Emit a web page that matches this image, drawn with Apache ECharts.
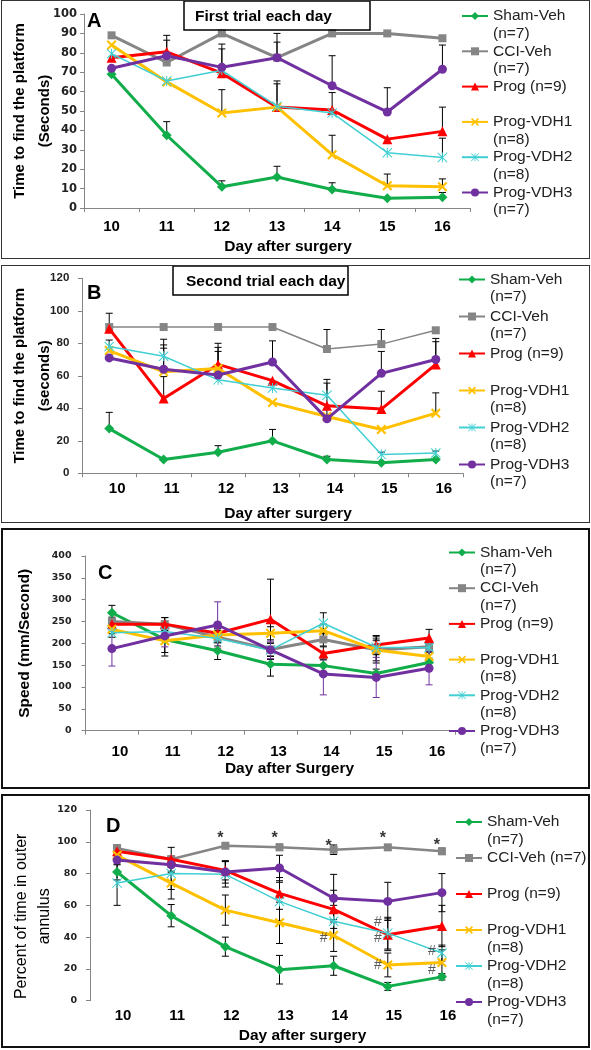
<!DOCTYPE html>
<html><head><meta charset="utf-8">
<script src="https://cdn.jsdelivr.net/npm/echarts@6/dist/echarts.min.js"></script>
<style>
html,body{margin:0;padding:0;background:#fff;}
body{width:591px;height:1050px;position:relative;overflow:hidden;}
.chart{position:absolute;left:0;width:591px;}
.box{position:absolute;box-sizing:border-box;pointer-events:none;}
</style></head><body>
<div id="pA" class="chart" style="top:0;height:259px"></div>
<div id="pB" class="chart" style="top:265px;height:258px"></div>
<div id="pC" class="chart" style="top:528px;height:261px"></div>
<div id="pD" class="chart" style="top:794px;height:254px"></div>
<div class="box" style="left:1px;top:0;width:589px;height:259px;border:1.5px solid #333"></div>
<div class="box" style="left:1px;top:265px;width:589px;height:258px;border:1.5px solid #333"></div>
<div class="box" style="left:1px;top:528px;width:589px;height:261px;border:2.5px solid #111"></div>
<div class="box" style="left:1px;top:794px;width:589px;height:254px;border:2.5px solid #111"></div>
<script>
// ---------- DATA ----------
const days = ['10', '11', '12', '13', '14', '15', '16'];

const legendABC = ['Sham-Veh\n(n=7)', 'CCI-Veh\n(n=7)', 'Prog (n=9)', 'Prog-VDH1\n(n=8)', 'Prog-VDH2\n(n=8)', 'Prog-VDH3\n(n=7)'];
const legendD = ['Sham-Veh\n(n=7)', 'CCI-Veh (n=7)', 'Prog (n=9)', 'Prog-VDH1\n(n=8)', 'Prog-VDH2\n(n=8)', 'Prog-VDH3\n(n=7)'];

// Panel A: first trial, time to platform (s), upper error bars
const aSham = [69, 37.5, 11, 16, 9.5, 5, 5.5];
const aCci  = [89, 75, 90, 77.5, 90, 90, 87.5];
const aProg = [77.5, 80.5, 69.5, 52, 50.5, 35.5, 39.5];
const aVdh1 = [84, 65, 49, 52, 27.5, 11.5, 11];
const aVdh2 = [79.5, 65.5, 71, 52.5, 49, 28.5, 26];
const aVdh3 = [72, 78.5, 72.5, 77.5, 63, 49.5, 71.5];
const aShamErr = [0, 7, 3, 5.5, 3.5, 0, 2.5];
const aCciErr  = [0, 0, 0, 12.5, 0, 0, 0];
const aProgErr = [0, 8.5, 12.5, 13.5, 9, 0, 12.5];
const aVdh1Err = [0, 0, 12, 12, 10, 6, 4];
const aVdh2Err = [0, 0, 0, 0, 0, 0, 10];
const aVdh3Err = [0, 8, 12, 8, 15.5, 12.5, 12.5];

// Panel B: second trial, time to platform (s), upper error bars
const bSham = [27.5, 8.5, 13, 20, 8.5, 6.5, 8.5];
const bCci  = [90, 90, 90, 90, 76.5, 79.5, 88];
const bProg = [89, 46, 67, 57, 41.5, 39.5, 67];
const bVdh1 = [75.5, 62.5, 64.5, 43.5, 35, 27, 37];
const bVdh2 = [78, 72, 57.5, 52.5, 48, 11.5, 12.5];
const bVdh3 = [71, 64, 60.5, 68.5, 33.5, 61.5, 70];
const bShamErr = [10, 0, 4, 7, 2, 0, 0];
const bCciErr  = [0, 0, 0, 0, 12, 9, 0];
const bProgErr = [9.5, 13.5, 13, 0, 0, 11, 14];
const bVdh1Err = [0, 14.5, 13, 0, 0, 0, 12.5];
const bVdh2Err = [4, 10.5, 0, 0, 9.8, 1.5, 1.2];
const bVdh3Err = [0, 15, 14.5, 13, 22, 13.5, 13];

// Panel C: speed (mm/s), symmetric error bars
const cSham = [270, 209, 183, 152, 149, 131, 156];
const cCci  = [250, 244, 214, 186, 209, 185, 192];
const cProg = [244, 244, 223, 255, 177, 196, 212];
const cVdh1 = [232, 206, 219, 223, 229, 185, 170];
const cVdh2 = [224, 227, 211, 185, 246, 191, 190];
const cVdh3 = [188, 217, 242, 185, 130, 122, 143];
const cShamErr = [17, 38, 20, 27, 15, 10, 10];
const cCciErr  = [10, 15, 20, 15, 15, 30, 10];
const cProgErr = [10, 15, 10, 92, 15, 22, 20];
const cVdh1Err = [10, 27, 10, 15, 15, 25, 10];
const cVdh2Err = [10, 10, 10, 15, 24, 15, 10];
const cVdh3Err = [40, 25, 53, 20, 48, 46, 38];

// Panel D: percent of time in outer annulus, symmetric error bars
const dSham = [81, 53.5, 34, 19.5, 22, 9, 15];
const dCci  = [96, 89, 97.5, 96.5, 95, 96.5, 94];
const dProg = [94, 89, 82, 67.5, 57.5, 41.5, 47];
const dVdh1 = [91.5, 74, 57, 49, 41, 22.5, 24];
const dVdh2 = [74, 80, 79.5, 62.5, 50, 42.5, 30];
const dVdh3 = [88.5, 85.5, 81, 83.5, 64.5, 62.5, 68];
const dShamErr = [5, 7, 6, 9, 6, 2.5, 2];
const dCciErr  = [2, 2, 1.5, 2, 3, 1.5, 2];
const dProgErr = [3, 7.5, 6, 10, 12, 10, 13];
const dVdh1Err = [3, 10, 9.5, 13, 10, 7.5, 8];
const dVdh2Err = [14, 10, 8, 12, 10, 10, 5];
const dVdh3Err = [3, 5, 7, 8, 15, 12, 12];
// significance marks in panel D: [day, value]
const dStarMarks = [['12', 104.5], ['13', 104.5], ['14', 99.5], ['15', 104.5], ['16', 100]];
const dHashMarks = [['14', 39.5], ['15', 49.5], ['15', 39.5], ['15', 22.5], ['16', 31.5], ['16', 19]];

// ---------- STYLE ----------
const COLORS = ['#12AD4B', '#858585', '#FF0000', '#FFC000', '#40CFD3', '#7030A0'];
const X_PATH = 'path://M0,1.5L1.5,0L5,3.5L8.5,0L10,1.5L6.5,5L10,8.5L8.5,10L5,6.5L1.5,10L0,8.5L3.5,5Z';
const STAR_PATH = 'path://M4.5,0L5.5,0L5.5,10L4.5,10ZM0.7,0L10,9.3L9.3,10L0,0.7ZM9.3,0L10,0.7L0.7,10L0,9.3Z';
const SYMBOLS = ['diamond', 'rect', 'triangle', X_PATH, STAR_PATH, 'circle'];
const SIZES = [10, 8, 10, 10, 10, 9];
const AXIS_GRAY = '#868686';
const TXT = '#222';
const LH = 17.5;

function errorSeries(means, errs, both, color) {
  return {
    type: 'custom', silent: true, z: 1,
    data: means.map((m, i) => [i, m, errs[i]]),
    encode: {x: 0, y: 1},
    renderItem: function (params, api) {
      const i = api.value(0), m = api.value(1), e = api.value(2);
      if (!e) return null;
      const hi = api.coord([i, m + e]);
      const lo = api.coord([i, both ? m - e : m]);
      const hw = 3.5;
      const st = {stroke: color, lineWidth: 1};
      const ch = [
        {type: 'line', shape: {x1: hi[0], y1: hi[1], x2: lo[0], y2: lo[1]}, style: st},
        {type: 'line', shape: {x1: hi[0] - hw, y1: hi[1], x2: hi[0] + hw, y2: hi[1]}, style: st}
      ];
      if (both) ch.push({type: 'line', shape: {x1: lo[0] - hw, y1: lo[1], x2: lo[0] + hw, y2: lo[1]}, style: st});
      return {type: 'group', children: ch};
    }
  };
}

function buildPanel(p) {
  const series = [];
  p.means.forEach((vals, k) => {
    series.push(errorSeries(vals, p.errs[k], p.both, p.errColors ? p.errColors[k] : '#000'));
  });
  p.means.forEach((vals, k) => {
    series.push({
      type: 'line', name: p.names[k], data: vals, z: 2 + k,
      symbol: SYMBOLS[k], symbolSize: SIZES[k], symbolKeepAspect: true, showAllSymbol: true,
      lineStyle: {color: COLORS[k], width: p.widths[k]},
      itemStyle: {color: COLORS[k], borderWidth: 0},
      emphasis: {disabled: true}
    });
  });
  if (p.extra) p.extra.forEach(s => series.push(s));
  const g = p.grid;
  return {
    animation: false,
    backgroundColor: '#fff',
    title: [
      {text: p.letter, left: p.letterPos[0], top: p.letterPos[1], padding: 0,
       textStyle: {fontSize: 20, fontWeight: 'bold', color: '#000', fontFamily: 'Liberation Sans'}},
    ].concat(p.boxTitle ? [{
       text: p.boxTitle.text, left: p.boxTitle.left, top: p.boxTitle.top, padding: p.boxTitle.padding,
       borderColor: '#000', borderWidth: 1.5,
       textStyle: {fontSize: 15.5, fontWeight: 'bold', color: '#000', fontFamily: 'Liberation Sans'}}] : []),
    legend: {
      orient: 'vertical', left: p.legend.left, top: p.legend.firstLine - 1.5 * LH, padding: 0,
      itemGap: p.legend.spacing - 3 * LH, itemWidth: 26, itemHeight: 10, selectedMode: false,
      data: p.names,
      // blank line above so the icon lines up with the group name line
      formatter: n => ' \n' + (n.indexOf('\n') >= 0 ? n : n + '\n '),
      textStyle: {fontSize: 15.5, lineHeight: LH, color: TXT, fontFamily: 'Liberation Sans'}
    },
    grid: {left: g[0], top: g[1], width: g[2], height: g[3], containLabel: false, outerBoundsMode: 'none'},
    xAxis: {
      type: 'category', data: days, boundaryGap: true,
      name: p.xName, nameLocation: 'middle', nameGap: p.xNameGap, nameMoveOverlap: false,
      nameTextStyle: {fontSize: 15.5, fontWeight: 'bold', color: '#000', fontFamily: 'Liberation Sans', padding: [0, 0, 0, p.xNameShift]},
      axisLine: {show: p.xLine, lineStyle: {color: AXIS_GRAY, width: 1}},
      axisTick: {show: p.xLine, length: 4, lineStyle: {color: AXIS_GRAY}},
      axisLabel: {margin: p.xLabelMargin, fontSize: 15, fontWeight: 'bold', color: '#000', fontFamily: 'Liberation Sans', padding: [0, 0, 0, p.xLabelShift], interval: 0},
      splitLine: {show: false}
    },
    yAxis: {
      type: 'value', min: 0, max: p.yMax, interval: p.yInterval,
      name: p.yName, nameLocation: 'middle', nameGap: p.yNameGap, nameMoveOverlap: false,
      nameTextStyle: {fontSize: p.yNameSize, fontWeight: p.yNameWeight, color: '#000', fontFamily: 'Liberation Sans', lineHeight: p.yNameLH, padding: p.yNamePad},
      axisLine: {show: true, lineStyle: {color: AXIS_GRAY, width: 1}},
      axisTick: {show: true, length: 4, lineStyle: {color: AXIS_GRAY}},
      axisLabel: {margin: p.yLabelMargin, fontSize: p.yLabelSize, fontWeight: 'bold', color: TXT, fontFamily: p.yLabelFont},
      splitLine: {show: false}
    },
    series: series
  };
}

const panelA = {
  letter: 'A', letterPos: [87, 11.7],
  boxTitle: {text: 'First trial each day', left: 184, top: 1, padding: [8, 38, 5, 11]},
  names: legendABC, legend: {left: 461, firstLine: 16, spacing: 35.3},
  means: [aSham, aCci, aProg, aVdh1, aVdh2, aVdh3],
  errs: [aShamErr, aCciErr, aProgErr, aVdh1Err, aVdh2Err, aVdh3Err], both: false,
  widths: [3, 3, 3, 3, 1.5, 3],
  grid: [84, 14, 386, 194], xLine: true,
  xName: 'Day after surgery', xNameGap: 31, xNameShift: 22, xLabelMargin: 11.5, xLabelShift: 0,
  yMax: 100, yInterval: 10, yName: 'Time to find the platform\n(Seconds)', yNameGap: 26.5,
  yNameSize: 15, yNameWeight: 'bold', yNameLH: 25, yNamePad: 0,
  yLabelMargin: 7, yLabelSize: 11.5, yLabelFont: 'DejaVu Sans'
};
const panelB = {
  letter: 'B', letterPos: [87, 18.5],
  boxTitle: {text: 'Second trial each day', left: 173, top: 1, padding: [8, 3, 5.5, 13]},
  names: legendABC, legend: {left: 458, firstLine: 14.5, spacing: 37},
  means: [bSham, bCci, bProg, bVdh1, bVdh2, bVdh3],
  errs: [bShamErr, bCciErr, bProgErr, bVdh1Err, bVdh2Err, bVdh3Err], both: false,
  widths: [3, 1.5, 3, 3, 1.5, 3],
  grid: [82, 13.3, 381, 195], xLine: true,
  xName: 'Day after surgery', xNameGap: 32, xNameShift: 31, xLabelMargin: 8, xLabelShift: 16,
  yMax: 120, yInterval: 20, yName: 'Time to find the platform\n(seconds)', yNameGap: 24.5,
  yNameSize: 15, yNameWeight: 'bold', yNameLH: 25, yNamePad: 0,
  yLabelMargin: 12.7, yLabelSize: 11.5, yLabelFont: 'Liberation Sans'
};
const panelC = {
  letter: 'C', letterPos: [98, 35.5],
  names: legendABC, legend: {left: 448, firstLine: 24.5, spacing: 35.7},
  means: [cSham, cCci, cProg, cVdh1, cVdh2, cVdh3],
  errs: [cShamErr, cCciErr, cProgErr, cVdh1Err, cVdh2Err, cVdh3Err], both: true,
  errColors: ['#000', '#000', '#000', '#000', '#000', '#7030A0'],
  widths: [3, 3, 3, 3, 1.5, 3],
  grid: [85.5, 28, 370, 174.7], xLine: true,
  xName: 'Day after Surgery', xNameGap: 29.8, xNameShift: 38, xLabelMargin: 13.5, xLabelShift: 16,
  yMax: 400, yInterval: 50, yName: 'Speed (mm/Second)', yNameGap: 48.5,
  yNameSize: 15.5, yNameWeight: 'bold', yNameLH: 25, yNamePad: 0,
  yLabelMargin: 14, yLabelSize: 9.5, yLabelFont: 'DejaVu Sans'
};
const panelD = {
  letter: 'D', letterPos: [106, 22],
  names: legendD, legend: {left: 455, firstLine: 28, spacing: 36},
  means: [dSham, dCci, dProg, dVdh1, dVdh2, dVdh3],
  errs: [dShamErr, dCciErr, dProgErr, dVdh1Err, dVdh2Err, dVdh3Err], both: true,
  widths: [3, 2.5, 3, 3, 1.5, 3],
  grid: [90, 16, 379, 190.7], xLine: false,
  xName: 'Day after surgery', xNameGap: 27.5, xNameShift: 46, xLabelMargin: 7.8, xLabelShift: 12,
  yMax: 120, yInterval: 20, yName: 'Percent of time in outer\nannulus', yNameGap: 33.3,
  yNameSize: 16, yNameWeight: 'normal', yNameLH: 23.5, yNamePad: [0, 22, 0, 0],
  yLabelMargin: 13, yLabelSize: 9.5, yLabelFont: 'DejaVu Sans',
  extra: [
    {type: 'scatter', data: dStarMarks, symbol: 'circle', symbolSize: 1, silent: true, z: 10,
     itemStyle: {color: 'rgba(0,0,0,0)'},
     label: {show: true, position: 'inside', formatter: '*', offset: [-5, 4], fontSize: 16, fontWeight: 'bold', color: '#000', fontFamily: 'Liberation Sans'}},
    {type: 'scatter', data: dHashMarks, symbol: 'circle', symbolSize: 1, silent: true, z: 10,
     itemStyle: {color: 'rgba(0,0,0,0)'},
     label: {show: true, position: 'inside', formatter: '#', offset: [-10, 0], fontSize: 14, color: '#333', fontFamily: 'Liberation Sans'}}
  ]
};

[['pA', panelA], ['pB', panelB], ['pC', panelC], ['pD', panelD]].forEach(([id, p]) => {
  const chart = echarts.init(document.getElementById(id), null, {renderer: 'canvas'});
  chart.setOption(buildPanel(p));
});
</script>
</body></html>
